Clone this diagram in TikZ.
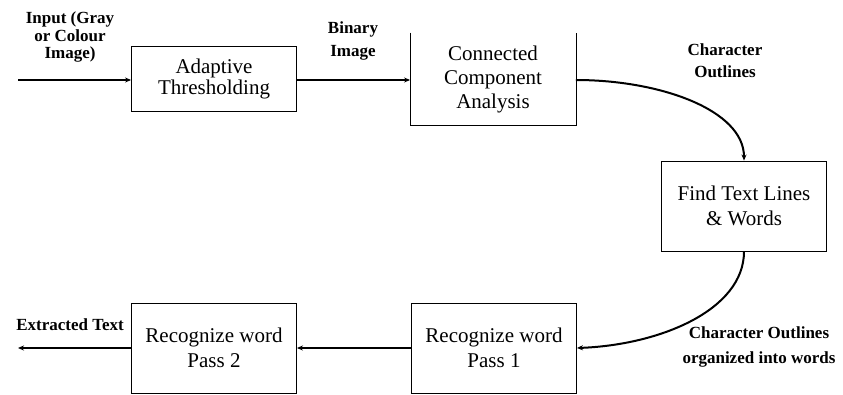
\documentclass[tikz,border=0pt]{standalone}
\usepackage{fontspec}
\setmainfont{Liberation Serif}
\usetikzlibrary{arrows.meta}
\begin{document}
\begin{tikzpicture}[x=1pt,y=-1pt,
  blk/.style={draw=black, line width=0.9pt, minimum width=165pt, minimum height=65pt, align=center, inner sep=0pt,
    font=\fontsize{21}{25}\selectfont},
  lbl/.style={align=center, inner sep=0pt, font=\fontsize{17}{23}\bfseries},
  flow/.style={line width=2pt, -{Stealth[length=6pt,width=5pt]}}]
\useasboundingbox (0,0) rectangle (843,394);
% blocks
\node[blk] (b1) at (214,78.5) {Adaptive\\[-4pt]Thresholding};
\node[blk, draw=none, minimum height=92pt] (b2) at (493,79) {Connected\\[-1pt]Component\\[-1pt]Analysis};
\draw[line width=0.9pt] (b2.north west) -- (b2.south west) -- (b2.south east) -- (b2.north east);
\node[blk, minimum height=90pt] (b3) at (744,206) {Find Text Lines\\\& Words};
\node[blk, minimum height=90pt] (b4) at (494,348) {Recognize word\\Pass 1};
\node[blk, minimum height=90pt] (b5) at (214,348) {Recognize word\\Pass 2};
% labels
\node[lbl, font=\fontsize{17}{17.5}\bfseries] (lin) at (70,37) {Input (Gray\\or Colour\\Image)};
\node[lbl] (lbin) at (353,41) {Binary\\Image};
\node[lbl, font=\fontsize{17}{22}\bfseries] (lco) at (725,61) {Character\\Outlines};
\node[lbl, font=\fontsize{17}{25}\bfseries] (lcw) at (759,347) {Character Outlines\\organized into words};
\node[lbl] (lext) at (70,325) {Extracted Text};
% connectors
\coordinate (inp) at (18,80);
\coordinate (out) at (18,348);
\draw[flow] (inp) -- (b1.west |- inp);
\draw[flow] (b1.east |- inp) -- (b2.west |- inp);
\draw[flow] (b2.east |- inp) .. controls (660,80) and (744,110) .. (b3.north);
\draw[flow] (b3.south) .. controls (744,310) and (660,345) .. (b4.east);
\draw[flow] (b4.west) -- (b5.east);
\draw[flow] (b5.west) -- (out);
\end{tikzpicture}
\end{document}
